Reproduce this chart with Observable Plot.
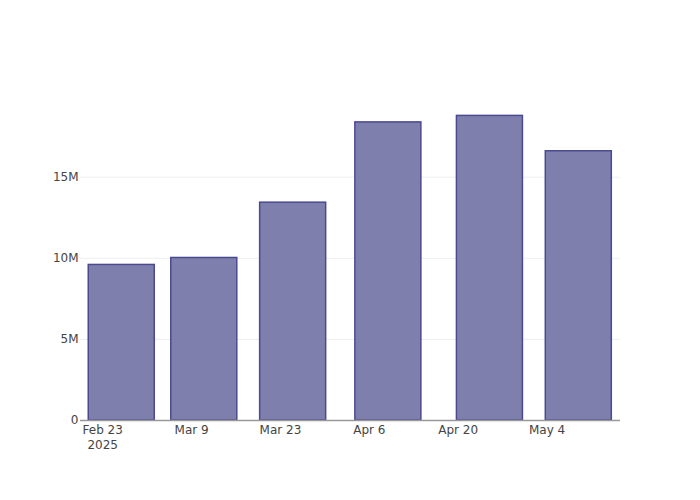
<!DOCTYPE html>
<html>
<head>
<meta charset="utf-8">
<script src="https://cdn.jsdelivr.net/npm/d3@7"></script>
<script src="https://cdn.jsdelivr.net/npm/@observablehq/plot@0.6"></script>
<style>
  html, body { margin: 0; padding: 0; background: #fff; }
  #chart { width: 700px; height: 500px; }
</style>
</head>
<body>
<div id="chart"></div>
<script>
// Data
const dates = ["2025-02-26", "2025-03-11", "2025-03-25", "2025-04-09", "2025-04-25", "2025-05-09"];
const values = [9.59e6, 10.02e6, 13.43e6, 18.38e6, 18.78e6, 16.6e6];
const xTickDates = ["2025-02-23", "2025-03-09", "2025-03-23", "2025-04-06", "2025-04-20", "2025-05-04"];
const yTicks = [0, 5e6, 10e6, 15e6];

const barDays = 10.4;
const halfMs = barDays / 2 * 864e5;

const data = dates.map((d, i) => ({ date: new Date(d + "T00:00:00Z"), value: values[i] }));
const xticks = xTickDates.map(d => new Date(d + "T00:00:00Z"));
const fmt = d3.utcFormat("%b %-d");

const chart = Plot.plot({
  width: 700,
  height: 500,
  marginLeft: 80,
  marginRight: 80,
  marginTop: 100,
  marginBottom: 80,
  style: { fontFamily: "'DejaVu Sans', sans-serif", fontSize: "12px", color: "#444", background: "#fff" },
  x: {
    type: "utc",
    domain: [new Date("2025-02-19T12:00:00Z"), new Date("2025-05-15T13:40:00Z")],
    label: null
  },
  y: {
    domain: [0, 19.73e6],
    label: null
  },
  marks: [
    Plot.gridY(yTicks, { stroke: "#eee", strokeOpacity: 1, strokeWidth: 1 }),
    Plot.rectY(data, {
      x1: d => new Date(+d.date - halfMs),
      x2: d => new Date(+d.date + halfMs),
      y: "value",
      fill: "#7f7fae",
      stroke: "#4a4a90",
      strokeWidth: 1.5
    }),
    Plot.ruleY([0], { stroke: "#999", strokeWidth: 1.5 }),
    Plot.axisY(yTicks, {
      tickSize: 0,
      tickPadding: 2,
      tickFormat: d => d === 0 ? "0" : (d / 1e6) + "M",
      fill: "#444",
      fontSize: 12
    }),
    Plot.axisX(xticks, {
      tickSize: 0,
      tickPadding: 3,
      lineHeight: 1.25,
      tickFormat: (d, i) => i === 0 ? fmt(d) + "\n" + d.getUTCFullYear() : fmt(d),
      fill: "#444",
      fontSize: 12
    })
  ]
});
document.getElementById("chart").appendChild(chart);
</script>
</body>
</html>
